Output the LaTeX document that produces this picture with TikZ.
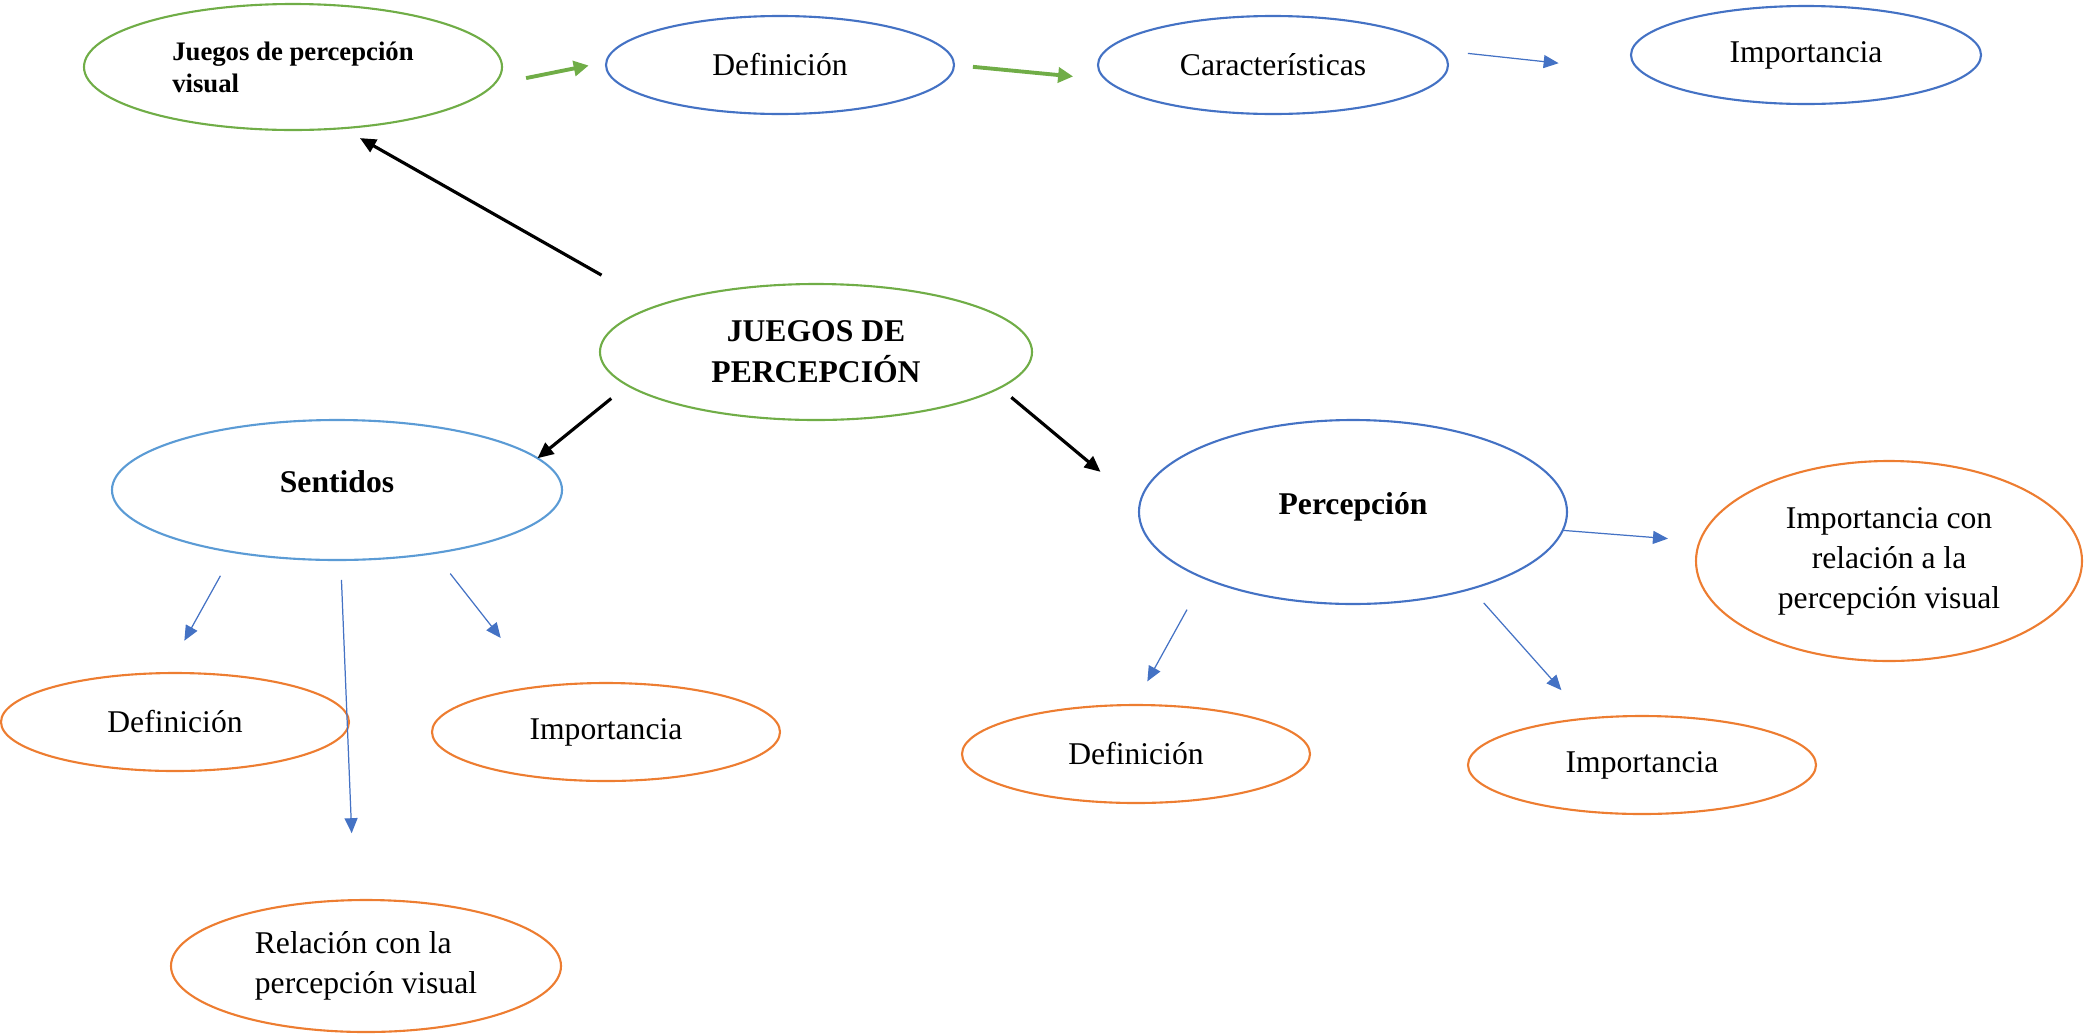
\documentclass[tikz,border=0pt]{standalone}
\usepackage{fontspec}
\setmainfont{Liberation Serif}
\usepackage{xcolor}
\usetikzlibrary{shapes.geometric,arrows.meta,positioning}
\definecolor{ogreen}{HTML}{70AD47}
\definecolor{oblue}{HTML}{4472C4}
\definecolor{lblue}{HTML}{5B9BD5}
\definecolor{oorange}{HTML}{ED7D31}

\begin{document}
\begin{tikzpicture}[
    oval/.style={ellipse, draw, line width=0.6pt, inner sep=0pt, outer sep=0pt, minimum width=3.48cm, minimum height=0.98cm, font=\fontsize{9}{11.4}\selectfont},
    garrow/.style={-{Triangle[length=1.5mm,width=1.5mm]}, ogreen, line width=1.1pt},
    karrow/.style={-{Triangle[length=1.6mm,width=1.4mm]}, black, line width=0.9pt},
    barrow/.style={-{Triangle[length=1.5mm,width=1.3mm]}, oblue, line width=0.35pt}]
    \useasboundingbox (0,0) rectangle (20.84,-10.33);
    \node[oval, draw=ogreen, minimum width=4.18cm, minimum height=1.26cm, align=left, font=\fontsize{7.6}{9.1}\selectfont\bfseries] (jpv) at (2.93,-0.67) {Juegos de percepción\\visual};
    \node[oval, draw=oblue] (def1) at (7.80,-0.65) {Definición};
    \node[oval, draw=oblue, minimum width=3.50cm] (car) at (12.73,-0.65) {Características};
    \node[oval, draw=oblue, minimum width=3.50cm] (imp1) at (18.06,-0.55) {Importancia};
    \node[oval, draw=ogreen, minimum width=4.32cm, minimum height=1.36cm, align=center, font=\fontsize{9}{11.7}\selectfont\bfseries] (jp) at (8.16,-3.52) {JUEGOS DE\\PERCEPCIÓN};
    \node[oval, draw=lblue, minimum width=4.50cm, minimum height=1.40cm, text depth=0.16cm, font=\fontsize{9}{11.4}\selectfont\bfseries] (sen) at (3.37,-4.90) {Sentidos};
    \node[oval, draw=oblue, minimum width=4.28cm, minimum height=1.84cm, text depth=0.17cm, font=\fontsize{9}{11.4}\selectfont\bfseries] (per) at (13.53,-5.12) {Percepción};
    \node[oval, draw=oorange, minimum width=3.86cm, minimum height=2.00cm, align=center] (imprel) at (18.89,-5.61) {Importancia con\\relación a la\\percepción visual};
    \node[oval, draw=oorange] (def2) at (1.75,-7.22) {Definición};
    \node[oval, draw=oorange] (imp2) at (6.06,-7.32) {Importancia};
    \node[oval, draw=oorange, minimum width=3.90cm, minimum height=1.32cm, align=left] (rel) at (3.66,-9.66) {Relación con la\\percepción visual};
    \node[oval, draw=oorange] (def3) at (11.36,-7.54) {Definición};
    \node[oval, draw=oorange] (imp3) at (16.42,-7.65) {Importancia};

    \draw[garrow, shorten <=0.33cm, shorten >=0.18cm] (jpv.-5) -- (def1.179);
    \draw[garrow, shorten <=0.19cm, shorten >=0.33cm] (def1.0) -- (car.185);
    \draw[barrow, shorten <=0.28cm, shorten >=0.84cm] (car.5) -- (imp1.186);
    \draw[karrow, shorten <=0.63cm, shorten >=0.20cm] (jp.164) -- (jpv.-51);
    \draw[karrow, shorten <=0.21cm] (jp.-170) -- (sen.9);
    \draw[karrow, shorten <=0.15cm, shorten >=0.51cm] (jp.-11) -- (per.178);
    \foreach \a/\b/\p/\q in {sen.-149/def2.100/0.27/0.37, sen.-87/rel.100/0.20/0.67, sen.-33/imp2.146/0.26/0.62, per.-5/imprel.174/0/0.32, per.-156/def3.92/0.36/0.27, per.-33/imp3.140/0.19/0.38}
        \draw[barrow, shorten <=\p cm, shorten >=\q cm] (\a) -- (\b);
\end{tikzpicture}
\end{document}
